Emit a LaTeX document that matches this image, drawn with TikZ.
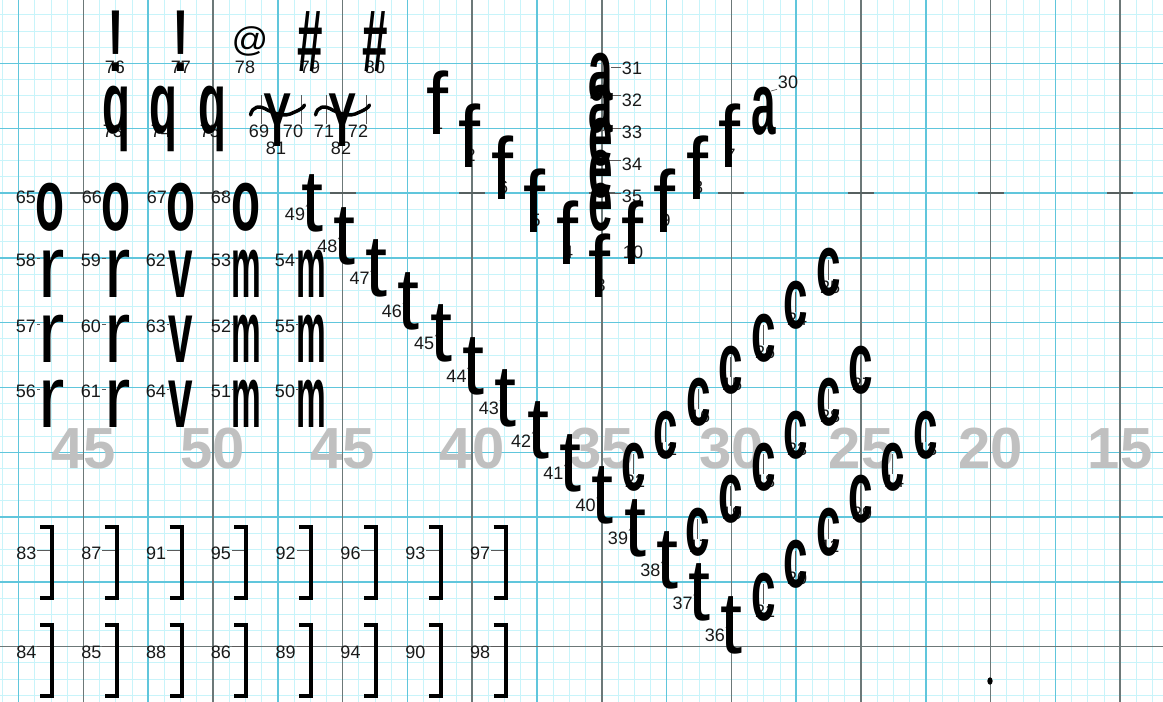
\documentclass[tikz,border=0pt]{standalone}
\usepackage{fontspec}
\usepackage{graphicx}
\newfontfamily\LibSans{Liberation Sans}
\definecolor{gridfine}{RGB}{200,244,250}
\definecolor{gridmaj}{RGB}{96,198,220}
\definecolor{griddark}{RGB}{108,120,120}
\definecolor{numgray}{RGB}{192,192,192}
\definecolor{leadcol}{RGB}{90,90,90}
\newcommand{\GlyphFnt}{\LibSans\fontsize{66}{66}\selectfont}
\newcommand{\GlyphFntB}{\LibSans\bfseries\fontsize{66}{66}\selectfont}
\newcommand{\LabFnt}{\LibSans\fontsize{13.5}{14}\selectfont}
\newcommand{\BigNumFnt}{\LibSans\bfseries\fontsize{43.5}{44}\selectfont}
\newcommand{\Gl}[2]{\scalebox{#1}[1]{#2}}
\tikzset{
 fine/.style={draw=gridfine, line width=0.75pt},
 major/.style={draw=gridmaj, line width=1.1pt},
 dark/.style={draw=griddark, line width=1.1pt},
 tickmark/.style={draw=griddark!80!black, line width=1.6pt},
 glyph/.style={inner sep=0pt, outer sep=0pt, anchor=base, font=\GlyphFnt, text=black},
 glyphb/.style={glyph, font=\GlyphFntB},
 lab/.style={inner sep=0.5pt, font=\LabFnt, text=black!90},
 leader/.style={draw=leadcol, line width=0.5pt},
 bignum/.style={inner sep=0pt, anchor=base, font=\BigNumFnt, text=numgray},
 bracket/.style={draw=black, line width=3pt, line join=miter},
}
\begin{document}
\begin{tikzpicture}[x=0.75pt,y=-0.75pt]
\fill[white] (0,0) rectangle (1163,702);
\useasboundingbox (0,0) rectangle (1163,702);
% ---------- grid ----------
\foreach \i in {0,...,71} \draw[fine] ({2.4+16.2*\i},0) -- ({2.4+16.2*\i},702);
\foreach \j in {-3,...,39} \draw[fine] (0,{646.7-16.2*\j}) -- (1163,{646.7-16.2*\j});
\foreach \k in {0,...,8} \draw[major] ({18.6+129.6*\k},0) -- ({18.6+129.6*\k},702);
\foreach \m in {1,...,9} \draw[major] (0,{646.7-64.8*\m}) -- (1163,{646.7-64.8*\m});
\foreach \k in {0,...,8} \draw[dark] ({83.4+129.6*\k},0) -- ({83.4+129.6*\k},702);
\draw[dark] (0,646.7) -- (1163,646.7);
\foreach \k in {0,...,8} \draw[tickmark] ({70.4+129.6*\k},193.3) -- ({96.4+129.6*\k},193.3);
% ---------- big gray numbers ----------
\foreach \t/\x [count=\c] in {45/83.4,50/213,45/342.6,40/472.2,35/601.8,30/731.4,25/861,20/990.6,15/1120.2}
  \node[bignum] (num\c) at (\x,468) {\t};
% ---------- labels and leaders ----------
% top row
\foreach \n/\x in {76/115,77/181,78/245,79/310,80/375} \node[lab] (l\n) at (\x,67) {\n};
\foreach \n/\x in {73/113,74/161,75/210} \node[lab] (l\n) at (\x,131) {\n};
\foreach \n/\x/\y in {69/259/131,70/293/131,81/276/148,71/324/131,72/358/131,82/341/148} \node[lab] (l\n) at (\x,\y) {\n};
\foreach \n/\x in {69/261,70/301,71/326,72/366} {
  \coordinate (ya\n) at (\x,95);
  \draw[leader] (l\n.north -| ya\n) -- (ya\n);
}
% o row
\foreach \n/\x in {65/26,66/92,67/157,68/221} \node[lab] (l\n) at (\x,197) {\n};
% r v m rows
\foreach \n/\x/\gx/\y in {58/26/40/260,59/91/106/260,62/156/169/260,53/221/233/260,54/285/298/260,
  57/26/40/326,60/91/106/326,63/156/169/326,52/221/233/326,55/285/298/326,
  56/26/40/391,61/91/106/391,64/156/169/391,51/221/233/391,50/285/298/391} {
  \node[lab] (l\n) at (\x,\y) {\n};
  \coordinate (ra\n) at (\gx,{\y-2});
  \draw[leader] (l\n.east |- ra\n) -- (ra\n);
}
% t diagonal
\foreach \n in {49,48,...,36} {
  \pgfmathsetmacro\k{49-\n}
  \node[lab] (lt\n) at ({295+32.3*\k},{214+32.4*\k}) {\n};
  \coordinate (ta\n) at ({313+32.3*\k},{196+32.4*\k});
  \draw[leader] (lt\n.north east) -- (ta\n);
}
% f labels
\foreach \n/\i/\j in {1/0/0,2/1/1,6/2/2,5/3/3,4/4/4,3/5/5,10/6/4,9/7/3,8/8/2,7/9/1}
  \node[lab] (lf\n) at ({438+32.5*\i},{123+32.4*\j}) {\n};
% a30
\node[lab] (l30) at (788,82) {30};
\coordinate (aa30) at (771,91);
\draw[leader] (aa30) -- (l30.south west);
% centre stack labels
\foreach \n [count=\k from 0] in {31,...,35} \node[lab] (ls\n) at (632,{68+32.2*\k}) {\n};
\coordinate (sc31) at (611,67);
\draw[leader] (sc31) -- (ls31.west |- sc31);
\foreach \n/\y in {32/95,33/128,34/160,35/193} {
  \coordinate (sc\n) at (601,\y);
  \draw[leader, line width=0.9pt] (sc\n) ellipse [x radius=3pt, y radius=2.3pt];
  \draw[leader] ([xshift=3pt]sc\n) -- (ls\n.west |- sc\n);
}
% c labels
\foreach \n/\x/\b in {22/634/490,12/666/458,16/699/425,15/731/393,26/764/361,24/796/328,25/829/296,
  17/698/555,19/731/522,18/764/490,23/796/458,28/829/425,27/861/393,
  21/764/620,20/796/587,11/829/555,29/861/522,14/893/490,13/926/458} {
  \node[lab] (lc\n) at ({\x+1},{\b-9}) {\n};
  \coordinate (ca\n) at ({\x-1},{\b-36});
  \draw[leader] (lc\n.north -| ca\n) -- (ca\n);
}
% bracket labels
\foreach \n [count=\c from 0] in {83,87,91,95,92,96,93,97} {
  \node[lab] (l\n) at ({26.5+64.8*\c},553) {\n};
  \coordinate (ba\n) at ({50+64.8*\c},550);
  \draw[leader] (l\n.east |- ba\n) -- (ba\n);
}
\foreach \n [count=\c from 0] in {84,85,88,86,89,94,90,98} {
  \node[lab] (l\n) at ({26.5+64.8*\c},652) {\n};
  \coordinate (ba\n) at ({50+64.8*\c},646.7);
  \draw[leader] (l\n.east |- ba\n) -- (ba\n);
}
% ---------- glyphs ----------
\foreach \n/\x in {76/115.5,77/181} {
  \node[glyph] (g\n) at (\x,72) {\Gl{0.85}{!}};
}
\node[inner sep=0pt, font=\GlyphFnt] (g78) at (250,41) {\scalebox{0.41}[0.39]{@}};
\node[glyphb] (g79) at (310,72) {\Gl{0.52}{\#}};
\node[glyphb] (g80) at (375,72) {\Gl{0.52}{\#}};
\foreach \n/\x in {73/116,74/163.5,75/212.5} \node[glyphb] (g\n) at (\x,134) {\Gl{0.52}{q}};
\foreach \n/\x in {81/277.5,82/342.5} {
  \node[glyphb] (g\n) at (\x,147) {\scalebox{0.48}[0.87]{Y}};
  \draw[line width=2.6pt, line cap=round] ({\x-27},115) .. controls ({\x-25},106) and ({\x-18},105) .. ({\x-10},110)
     .. controls ({\x-2},114) and ({\x+8},117) .. ({\x+15},113) .. controls ({\x+22},110) and ({\x+26},108) .. ({\x+27},105);
}
\foreach \n/\x in {65/50,66/116,67/181,68/246} \node[glyphb] (g\n) at (\x,231) {\Gl{0.54}{o}};
\foreach \n/\x/\b in {58/51.5/297,59/117.5/297,57/51.5/362,60/117.5/362,56/51.5/427,61/117.5/427}
  \node[glyph] (g\n) at (\x,\b) {\Gl{0.9}{r}};
\foreach \n/\b in {62/297,63/362,64/427}
  \node[glyphb] (g\n) at (180.5,\b) {\Gl{0.5}{v}};
\foreach \n/\x/\b in {53/246/297,54/311/297,52/246/362,55/311/362,51/246/427,50/311/427}
  \node[glyphb] (g\n) at (\x,\b) {\Gl{0.38}{m}};
\foreach \n in {49,48,...,36} {
  \pgfmathsetmacro\k{49-\n}
  \node[glyph] (t\n) at ({312+32.3*\k},{232+32.4*\k}) {\Gl{0.9}{t}};
}
\foreach \n/\i/\j in {1/0/0,2/1/1,6/2/2,5/3/3,4/4/4,3/5/5,10/6/4,9/7/3,8/8/2,7/9/1}
  \node[glyph] (f\n) at ({437+32.5*\i},{135+32.4*\j}) {\Gl{0.9}{f}};
\node[glyphb] (g30) at (764,135) {\Gl{0.5}{a}};
\foreach \n/\ch/\b in {31/a/101,32/a/133,33/e/166,34/e/198,35/e/231}
  \node[glyphb] (s\n) at (601,\b) {\Gl{0.5}{\ch}};
\foreach \n/\x/\b in {22/634/490,12/666/458,16/699/425,15/731/393,26/764/361,24/796/328,25/829/296,
  17/698/555,19/731/522,18/764/490,23/796/458,28/829/425,27/861/393,
  21/764/620,20/796/587,11/829/555,29/861/522,14/893/490,13/926/458}
  \node[glyphb] (c\n) at (\x,\b) {\Gl{0.5}{c}};
% brackets
\foreach \r/\top/\bot in {1/527/598,2/625/696} {
  \foreach \c in {0,...,7} {
    \draw[bracket] ({40+64.8*\c},\top) -- ({52+64.8*\c},\top) -- ({52+64.8*\c},\bot) -- ({40+64.8*\c},\bot);
  }
}
% dot
\coordinate (dot) at (990,681);
\fill[black] (dot) ellipse [x radius=2pt, y radius=2.8pt];
\end{tikzpicture}
\end{document}
